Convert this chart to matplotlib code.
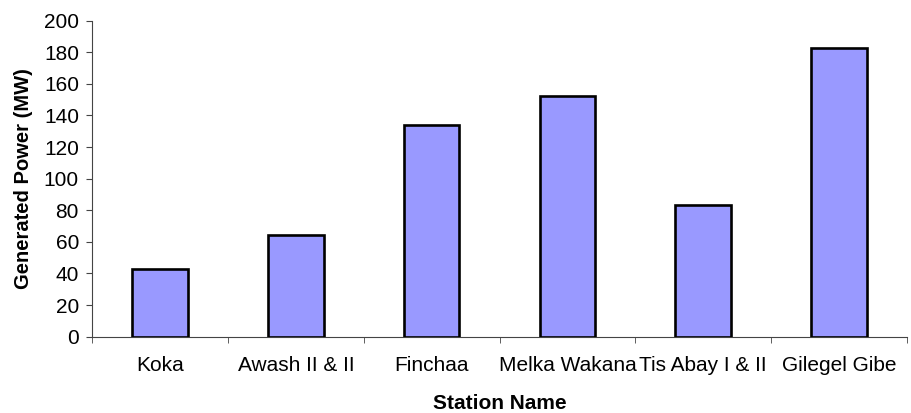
import numpy as np
import matplotlib
matplotlib.use("Agg")
from matplotlib import pyplot as plt

# Dados
stations = ["Koka", "Awash II & II", "Finchaa", "Melka Wakana",
            "Tis Abay I & II", "Gilegel Gibe"]
power_mw = [43, 64, 134, 152, 83, 183]
yticks = [0, 20, 40, 60, 80, 100, 120, 140, 160, 180, 200]

plt.rcParams["font.family"] = ["Liberation Sans", "DejaVu Sans"]

fig = plt.figure(figsize=(9.12, 4.13), dpi=100)
ax = fig.add_axes([0.101, 0.185, 0.8935, 0.765])

x = np.arange(len(stations))
ax.bar(x, power_mw, width=0.41, color="#9999FF", edgecolor="black",
       linewidth=1.9, zorder=3)

ax.set_xlim(-0.5, len(stations) - 0.5)
ax.set_ylim(0, 200)
ax.set_yticks(yticks)

# Rotulos no centro, marcas nas divisas das categorias
ax.set_xticks(x)
ax.set_xticklabels(stations, fontsize=15)
ax.tick_params(axis="x", which="major", length=0, pad=14)
ax.set_xticks(np.arange(len(stations) + 1) - 0.5, minor=True)
ax.tick_params(axis="x", which="minor", length=4.5, direction="out",
               color="#444444")
ax.tick_params(axis="y", labelsize=15, length=4.5, color="#444444", pad=5)

for side in ["top", "right"]:
    ax.spines[side].set_visible(False)
ax.spines["left"].set_color("#444444")
ax.spines["bottom"].set_color("#444444")

ax.set_xlabel("Station Name", fontsize=15, fontweight="bold", labelpad=14)
ax.set_ylabel("Generated Power (MW)", fontsize=14.5, fontweight="bold",
              labelpad=8)

fig.savefig("out.png", dpi=100)
